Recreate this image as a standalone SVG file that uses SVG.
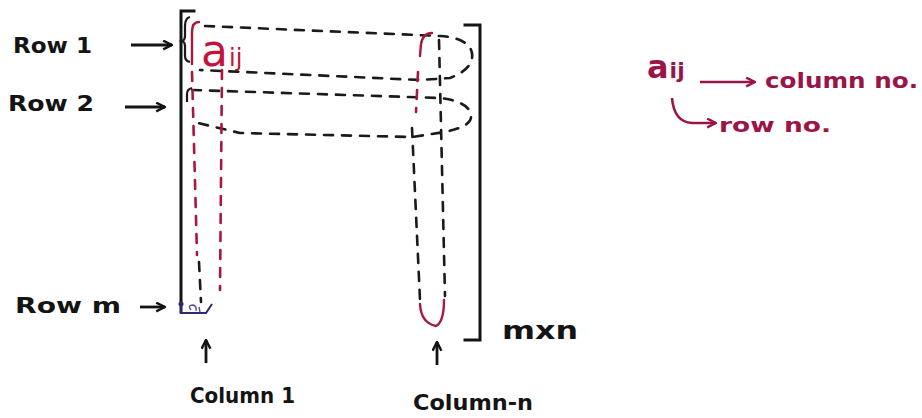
<svg xmlns="http://www.w3.org/2000/svg" width="922" height="418" viewBox="0 0 922 418">
<style>
.lbl{font-family:"DejaVu Sans","Liberation Sans",sans-serif;fill:#141414;font-weight:bold}
.mag{font-family:"DejaVu Sans","Liberation Sans",sans-serif;fill:#9a1448;font-weight:bold}
.red{font-family:"DejaVu Sans","Liberation Sans",sans-serif;fill:#c4123a}
.br{fill:none;stroke:#141414;stroke-width:3;stroke-linecap:square}
.dash{fill:none;stroke:#1a1a1a;stroke-width:2.6;stroke-dasharray:9 9;stroke-linecap:round}
.rdash{fill:none;stroke:#a8173c;stroke-width:2.6;stroke-dasharray:9 9;stroke-linecap:round}
.rsolid{fill:none;stroke:#a8173c;stroke-width:2.4;stroke-linecap:round}
.arr{fill:none;stroke:#141414;stroke-width:2.8}
.marr{fill:none;stroke:#9a1448;stroke-width:2.6}
</style>
<defs>
<marker id="ah" viewBox="0 0 10 10" refX="9" refY="5" markerWidth="11" markerHeight="11" markerUnits="userSpaceOnUse" orient="auto">
<path d="M1,1 L9,5 L1,9" fill="none" stroke="#141414" stroke-width="2.2"/>
</marker>
<marker id="mah" viewBox="0 0 10 10" refX="9" refY="5" markerWidth="11" markerHeight="11" markerUnits="userSpaceOnUse" orient="auto">
<path d="M1,1 L9,5 L1,9" fill="none" stroke="#9a1448" stroke-width="2.2"/>
</marker>
</defs>
<rect width="922" height="418" fill="#ffffff"/>

<g id="matrix">
<path class="br" d="M194,11 L181,11 L181,312"/>
<path class="br" d="M465,25 L480,25 L480,340 L465,340"/>
<path fill="none" stroke="#2a2a70" stroke-width="2" d="M181,303 L181,313 L206,313 L212,304"/>
<circle cx="181" cy="304" r="2.5" fill="#2a2a70"/>
<path fill="none" stroke="#5a4aa0" stroke-width="1.4" d="M191,310 Q187,305 193,305 Q197,306 196,311 M199,307 L200,312"/>
<text class="red" x="201" y="66" font-size="44">a<tspan font-size="24" dx="1">ij</tspan></text>
</g>

<g id="connectors">
<path fill="none" stroke="#1a1a1a" stroke-width="2.2" d="M190,17 Q185,18 185,26 L185,36 Q185,40 182,41 Q185,42 185,46 L185,56 Q185,61 190,62"/>
<path fill="none" stroke="#1a1a1a" stroke-width="2.2" d="M192,88 Q187,89 187,94 L187,102"/>
<path class="dash" d="M205,26 L440,36 C462,37 474,46 472,58 C470,68 462,73 450,78 L420,80 L200,70"/>
<path class="dash" d="M192,90 L440,98 C458,100 470,106 471,115 C472,124 462,128 445,132 L412,137 L240,133 L198,123"/>
<path class="rsolid" d="M199,22 Q192,22 192,32 L192,64"/>
<path class="rdash" d="M192,72 L197,255"/>
<path class="dash" d="M199,262 L201,302"/>
<path class="rdash" d="M222,70 L220,290"/>
<path class="rsolid" d="M432,33 Q423,33 421,44 L420,56"/>
<path class="rdash" d="M418,72 L416,112"/>
<path class="dash" d="M412,128 L420,300"/>
<path class="rsolid" d="M420,304 Q421,323 436,326 Q444,322 444,300"/>
<path class="dash" d="M439,40 L445,296"/>
<line class="arr" x1="131" y1="45" x2="172" y2="45" marker-end="url(#ah)"/>
<line class="arr" x1="125" y1="107" x2="165" y2="107" marker-end="url(#ah)"/>
<line class="arr" x1="140" y1="307" x2="165" y2="307" marker-end="url(#ah)"/>
<line class="arr" x1="206" y1="363" x2="206" y2="340" marker-end="url(#ah)"/>
<line class="arr" x1="437" y1="365" x2="437" y2="342" marker-end="url(#ah)"/>
<line class="marr" x1="700" y1="82" x2="755" y2="82" marker-end="url(#mah)"/>
<path class="marr" d="M672,98 Q674,122 692,123 L716,123" marker-end="url(#mah)"/>
</g>

<g id="labels">
<text class="lbl" x="13" y="53" font-size="22" textLength="79" lengthAdjust="spacingAndGlyphs">Row 1</text>
<text class="lbl" x="8" y="111" font-size="22" textLength="86" lengthAdjust="spacingAndGlyphs">Row 2</text>
<text class="lbl" x="15" y="313" font-size="22" textLength="106" lengthAdjust="spacingAndGlyphs">Row m</text>
<text class="lbl" x="190" y="403" font-size="21" textLength="105" lengthAdjust="spacingAndGlyphs">Column 1</text>
<text class="lbl" x="413" y="410" font-size="21" textLength="120" lengthAdjust="spacingAndGlyphs">Column-n</text>
<text class="lbl" x="502" y="339" font-size="24" textLength="76" lengthAdjust="spacingAndGlyphs">mxn</text>
</g>

<g id="legend">
<text class="mag" x="647" y="78" font-size="32">a<tspan font-size="22" dx="1">ij</tspan></text>
<text class="mag" x="765" y="88" font-size="22" textLength="153" lengthAdjust="spacingAndGlyphs">column no.</text>
<text class="mag" x="719" y="132" font-size="20" textLength="112" lengthAdjust="spacingAndGlyphs">row no.</text>
</g>
</svg>
